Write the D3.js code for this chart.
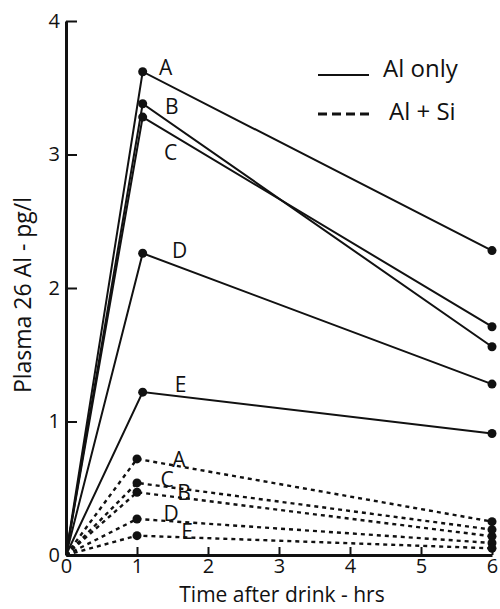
<!DOCTYPE html>
<html>
<head>
<meta charset="utf-8">
<script src="https://cdn.jsdelivr.net/npm/d3@7"></script>
<style>
  body { margin: 0; background: #fff; }
  text { font-family: "Open Sans", sans-serif; fill: #111; }
</style>
</head>
<body>
<div id="chart"></div>
<script>
// groups and readings (pg/l) at 0, 1 and 6 hours
var groups = ["A", "B", "C", "D", "E"]
var timesAlOnly = [0, 1.08, 6]
var timesAlSi = [0, 1, 6]
var alOnly = [
   [0, 3.62, 2.28],
   [0, 3.38, 1.56],
   [0, 3.28, 1.71],
   [0, 2.26, 1.28],
   [0, 1.22, 0.91]
]
var alSi = [
   [0, 0.72, 0.25],
   [0, 0.47, 0.14],
   [0, 0.54, 0.19],
   [0, 0.27, 0.09],
   [0, 0.145, 0.05]
]
var xTicks = [0, 1, 2, 3, 4, 5, 6]
var yTicks = [0, 1, 2, 3, 4]

// where the letter sits relative to the 1 hr point
var offSolid = [[23, -4], [29, 3], [28, 35], [37, -3], [38, -8]]
var offDash = [[42, 1], [47, 0], [30, -3], [34, -6], [50, -4]]

var width = 500
    height = 609

var svg = d3.select("#chart")
   .append("svg")
   .attr("width", width)
   .attr("height", height)

var x = d3.scaleLinear().domain([0, 6]).range([66, 492])
var y = d3.scaleLinear().domain([0, 4]).range([555, 21])

var line = d3.line()
   .x(function(d) { return x(d[0]) })
   .y(function(d) { return y(d[1]) })

// Al + Si (dashed)
alSi.forEach(function(vals, i) {
   var pts = vals.map(function(v, j) { return [timesAlSi[j], v] })
   svg.append("path")
      .attr("d", line(pts))
      .attr("fill", "none")
      .attr("stroke", "#111")
      .attr("stroke-width", 2.4)
      .attr("stroke-dasharray", "4,4")
   svg.selectAll(null)
      .data(pts.slice(1))
      .enter()
      .append("circle")
      .attr("cx", function(d) { return x(d[0]) })
      .attr("cy", function(d) { return y(d[1]) })
      .attr("r", 4.5)
      .attr("fill", "#111")
   svg.append("text")
      .attr("x", x(pts[1][0]) + offDash[i][0])
      .attr("y", y(pts[1][1]) + offDash[i][1])
      .attr("dy", "0.36em")
      .style("text-anchor", "middle")
      .style("font-size", "21px")
      .text(groups[i])
})

// Al only (solid)
alOnly.forEach(function(vals, i) {
   var pts = vals.map(function(v, j) { return [timesAlOnly[j], v] })
   svg.append("path")
      .attr("d", line(pts))
      .attr("fill", "none")
      .attr("stroke", "#111")
      .attr("stroke-width", 2)
   svg.selectAll(null)
      .data(pts.slice(1))
      .enter()
      .append("circle")
      .attr("cx", function(d) { return x(d[0]) })
      .attr("cy", function(d) { return y(d[1]) })
      .attr("r", 4.5)
      .attr("fill", "#111")
   svg.append("text")
      .attr("x", x(pts[1][0]) + offSolid[i][0])
      .attr("y", y(pts[1][1]) + offSolid[i][1])
      .attr("dy", "0.36em")
      .style("text-anchor", "middle")
      .style("font-size", "21px")
      .text(groups[i])
})

// axes
var xAxis = svg.append("g")
   .attr("transform", "translate(0," + y(0) + ")")
   .call(d3.axisBottom(x).tickValues(xTicks).tickFormat(d3.format("d"))
      .tickSize(-8).tickSizeOuter(0).tickPadding(4))
var yAxis = svg.append("g")
   .attr("transform", "translate(" + x(0) + ",0)")
   .call(d3.axisLeft(y).tickValues(yTicks).tickFormat(d3.format("d"))
      .tickSize(-11).tickSizeOuter(0).tickPadding(6))

;[xAxis, yAxis].forEach(function(a) {
   a.select(".domain").attr("stroke", "#111").attr("stroke-width", 3)
   a.selectAll(".tick line").attr("stroke", "#111").attr("stroke-width", 2)
   a.selectAll(".tick text")
      .style("font-family", "'Open Sans', sans-serif")
      .style("font-size", "20px")
      .attr("fill", "#111")
})

svg.append("text")
   .attr("x", 282)
   .attr("y", 602)
   .style("text-anchor", "middle")
   .style("font-size", "21px")
   .text("Time after drink - hrs")

svg.append("text")
   .attr("transform", "translate(31,295) rotate(-90)")
   .style("text-anchor", "middle")
   .style("font-size", "23px")
   .text("Plasma 26 Al - pg/l")

// legend
svg.append("line")
   .attr("x1", 318).attr("x2", 369)
   .attr("y1", 75).attr("y2", 75)
   .attr("stroke", "#111").attr("stroke-width", 2)
svg.append("text")
   .attr("x", 383).attr("y", 77)
   .style("font-size", "24px")
   .text("Al only")
svg.append("line")
   .attr("x1", 318).attr("x2", 369)
   .attr("y1", 114).attr("y2", 114)
   .attr("stroke", "#111").attr("stroke-width", 3)
   .attr("stroke-dasharray", "9,5")
svg.append("text")
   .attr("x", 389).attr("y", 120)
   .style("font-size", "24px")
   .text("Al + Si")
</script>
</body>
</html>
